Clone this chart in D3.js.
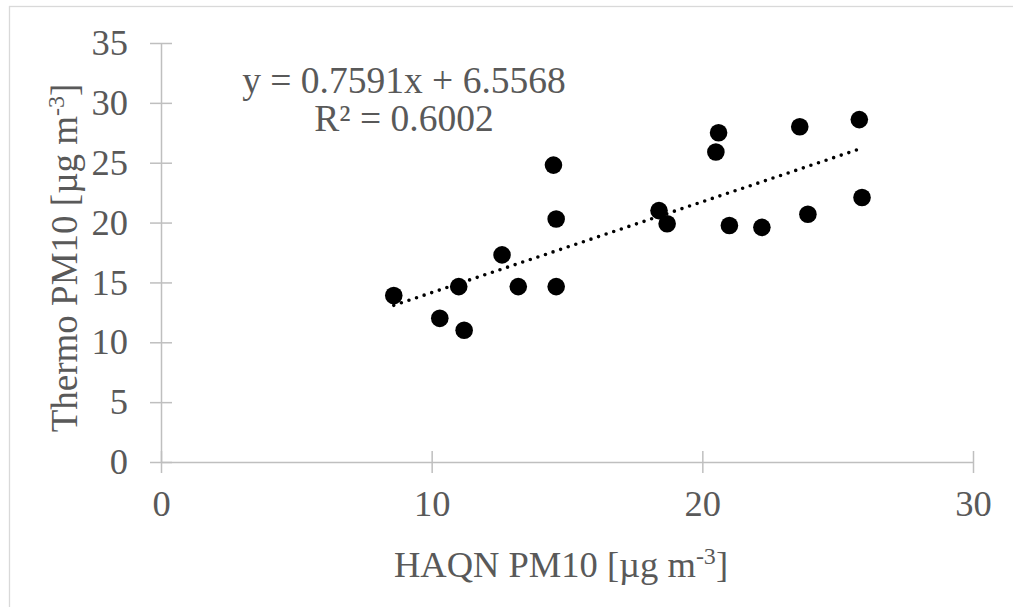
<!DOCTYPE html>
<html lang="en">
<head>
  <meta charset="UTF-8" />
  <title>Thermo vs HAQN PM10</title>
  <script src="https://d3js.org/d3.v7.min.js"></script>
  <style>
    body { margin: 0; background: #fff; }
    text { font-family: "Liberation Serif", "Times New Roman", serif; fill: #595959; }
  </style>
</head>
<body>
  <svg width="1013" height="607"></svg>
  <script>
    // HAQN PM10 (x) vs Thermo PM10 (y)
    const haqn   = [8.6, 10.3, 11.2, 11.0, 12.6, 13.2, 14.5, 14.6, 14.6, 18.4, 18.7,
                    20.6, 20.5, 21.0, 22.2, 23.6, 23.9, 25.8, 25.9];
    const thermo = [13.9, 12.0, 11.0, 14.65, 17.3, 14.65, 24.8, 20.3, 14.65, 21.0, 19.9,
                    27.5, 25.9, 19.75, 19.6, 28.0, 20.7, 28.6, 22.1];
    const xTicks = [0, 10, 20, 30];
    const yTicks = [0, 5, 10, 15, 20, 25, 30, 35];
    const slope = 0.7591, intercept = 6.5568;
    const eqLines = ["y = 0.7591x + 6.5568", "R² = 0.6002"];

    const points = haqn.map((x, i) => ({ x: x, y: thermo[i] }));

    const svg = d3.select("svg");
    const axisColor = "#bfbfbf";

    // outer chart border (right/bottom edges lie outside the picture)
    svg.append("rect")
      .attr("x", 9.5).attr("y", 6.5)
      .attr("width", 1020).attr("height", 620)
      .attr("fill", "none")
      .attr("stroke", "#d9d9d9")
      .attr("stroke-width", 1.3);

    const x = d3.scaleLinear().domain([0, 30]).range([161, 973]);
    const y = d3.scaleLinear().domain([0, 35]).range([462, 43]);

    // y axis with crossing ticks
    const yAxis = svg.append("g")
      .attr("transform", `translate(${x(0)},0)`)
      .call(d3.axisLeft(y).tickValues(yTicks).tickSize(0).tickPadding(33));
    yAxis.select(".domain").attr("stroke", axisColor).attr("stroke-width", 1.5);
    yAxis.selectAll(".tick").append("line")
      .attr("x1", -11).attr("x2", 11)
      .attr("stroke", axisColor).attr("stroke-width", 1.5);
    yAxis.selectAll(".tick text")
      .attr("font-size", 36.5)
      .attr("fill", "#595959");

    // x axis with crossing ticks
    const xAxis = svg.append("g")
      .attr("transform", `translate(0,${y(0)})`)
      .call(d3.axisBottom(x).tickValues(xTicks).tickSize(0).tickPadding(28));
    xAxis.select(".domain").attr("stroke", axisColor).attr("stroke-width", 1.5);
    xAxis.selectAll(".tick").append("line")
      .attr("y1", -11).attr("y2", 11)
      .attr("stroke", axisColor).attr("stroke-width", 1.5);
    xAxis.selectAll(".tick text")
      .attr("font-size", 36.5)
      .attr("fill", "#595959");

    // linear trendline over the data range
    const xr = d3.extent(haqn);
    const trend = xr.map(v => ({ x: v, y: slope * v + intercept }));
    svg.append("path")
      .datum(trend)
      .attr("fill", "none")
      .attr("stroke", "#000")
      .attr("stroke-width", 3.6)
      .attr("stroke-linecap", "round")
      .attr("stroke-dasharray", "0 8")
      .attr("d", d3.line().x(d => x(d.x)).y(d => y(d.y)));

    // points
    svg.selectAll(".dot")
      .data(points)
      .enter().append("circle")
      .attr("class", "dot")
      .attr("cx", d => x(d.x))
      .attr("cy", d => y(d.y))
      .attr("r", 8.8)
      .attr("fill", "#000");

    // trendline equation
    const eq = svg.append("text")
      .attr("x", 404).attr("y", 93)
      .attr("text-anchor", "middle")
      .attr("font-size", 37.5);
    eq.selectAll("tspan")
      .data(eqLines)
      .enter().append("tspan")
      .attr("x", 404)
      .attr("dy", (d, i) => i === 0 ? 0 : 38)
      .text(d => d);

    // axis titles
    const xt = svg.append("text")
      .attr("x", 561).attr("y", 577)
      .attr("text-anchor", "middle")
      .attr("font-size", 36.5);
    xt.append("tspan").text("HAQN PM10 [µg m");
    xt.append("tspan").attr("font-size", 24).attr("dy", -13).text("-3");
    xt.append("tspan").attr("dy", 13).text("]");

    const yt = svg.append("text")
      .attr("transform", "translate(77,258) rotate(-90)")
      .attr("text-anchor", "middle")
      .attr("font-size", 37);
    yt.append("tspan").text("Thermo PM10 [µg m");
    yt.append("tspan").attr("font-size", 24).attr("dy", -13).text("-3");
    yt.append("tspan").attr("dy", 13).text("]");
  </script>
</body>
</html>
